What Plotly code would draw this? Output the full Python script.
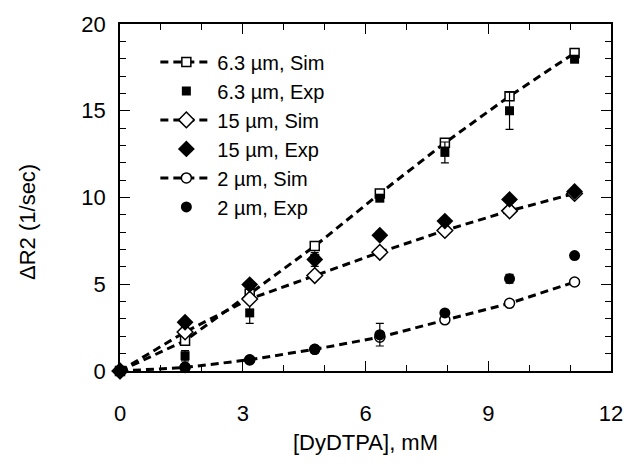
import plotly.graph_objects as go

# Data
conc = [0, 1.59, 3.17, 4.76, 6.35, 7.94, 9.52, 11.11]

sim_63 = [0, 1.75, 4.45, 7.2, 10.23, 13.15, 15.84, 18.33]
exp_63 = [0, 0.88, 3.35, 6.5, 9.96, 12.6, 15.0, 17.97]
err_63 = [0, 0.3, 0.6, 0.1, 0.1, 0.6, 1.07, 0.1]

sim_15 = [0, 2.25, 4.15, 5.5, 6.84, 8.1, 9.23, 10.23]
exp_15 = [0, 2.81, 4.98, 6.43, 7.82, 8.64, 9.89, 10.35]
err_15 = [0, 0.1, 0.1, 0.4, 0.1, 0.1, 0.1, 0.1]

sim_2 = [0, 0.2, 0.65, 1.25, 1.95, 2.95, 3.9, 5.13]
exp_2 = [0, 0.24, 0.63, 1.25, 2.09, 3.35, 5.32, 6.65]
err_2 = [0, 0.1, 0.1, 0.1, 0.65, 0.1, 0.25, 0.1]

names = ["6.3 µm, Sim", "6.3 µm, Exp", "15 µm, Sim", "15 µm, Exp", "2 µm, Sim", "2 µm, Exp"]

FONT = "Liberation Sans, Arial, sans-serif"
dash = "8px,5px"

fig = go.Figure()

def sim_trace(y, name, symbol, size):
    return go.Scatter(
        x=conc, y=y, name=name, mode="lines+markers",
        line=dict(color="black", width=3, dash=dash),
        marker=dict(symbol=symbol, size=size, color="white",
                    line=dict(color="black", width=1.5)),
        cliponaxis=False,
    )

def exp_trace(y, err, name, symbol, size):
    return go.Scatter(
        x=conc, y=y, name=name, mode="markers",
        marker=dict(symbol=symbol, size=size, color="black"),
        error_y=dict(type="data", array=err, color="black", thickness=1.2, width=4),
        cliponaxis=False,
    )

fig.add_trace(sim_trace(sim_63, names[0], "square", 9))
fig.add_trace(exp_trace(exp_63, err_63, names[1], "square", 9))
fig.add_trace(sim_trace(sim_15, names[2], "diamond", 12))
fig.add_trace(exp_trace(exp_15, err_15, names[3], "diamond", 13))
fig.add_trace(sim_trace(sim_2, names[4], "circle", 10))
fig.add_trace(exp_trace(exp_2, err_2, names[5], "circle", 11))

axis_common = dict(
    showgrid=False, zeroline=False, showline=True, linecolor="black", linewidth=1.5,
    mirror="ticks", ticks="inside", ticklen=10, tickwidth=1.2, tickcolor="black",
    tickfont=dict(family=FONT, size=22, color="black"),
    ticklabeloverflow="allow",
)

fig.update_xaxes(
    range=[0, 12], tick0=0, dtick=3,
    minor=dict(dtick=1, ticks="inside", ticklen=6, tickcolor="black", tickwidth=1.2),
    ticklabelstandoff=22,
    title=dict(text="[DyDTPA], mM", font=dict(family=FONT, size=22, color="black"), standoff=9),
    **axis_common,
)
fig.update_yaxes(
    range=[0, 20], tick0=0, dtick=5,
    minor=dict(dtick=1, ticks="inside", ticklen=6, tickcolor="black", tickwidth=1.2),
    ticklabelstandoff=8,
    **axis_common,
)

fig.add_annotation(
    text="ΔR2 (1/sec)", textangle=-90, xref="paper", yref="paper",
    x=-0.187, y=0.43, xanchor="center", yanchor="middle", showarrow=False,
    font=dict(family=FONT, size=22, color="black"),
)

fig.update_layout(
    width=635, height=466,
    margin=dict(l=120, r=16, t=21, b=95),
    paper_bgcolor="white", plot_bgcolor="white",
    showlegend=True,
    legend=dict(
        x=0.072, y=0.947, xanchor="left", yanchor="top",
        bgcolor="rgba(0,0,0,0)", borderwidth=0,
        font=dict(family=FONT, size=20, color="black"),
        itemwidth=52, tracegroupgap=0,
    ),
)

fig.write_html(
    "out.html",
    config={"displayModeBar": False},
    post_script="document.body.style.margin='0';document.body.style.overflow='hidden';",
)
